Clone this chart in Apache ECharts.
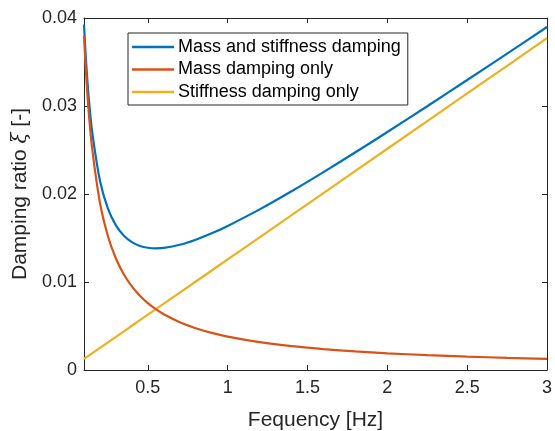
<!DOCTYPE html>
<html><head><meta charset="utf-8">
<script src="https://cdn.jsdelivr.net/npm/echarts@6/dist/echarts.min.js"></script>
<style>html,body{margin:0;padding:0;background:#fff}#c{width:555px;height:431px}</style>
</head><body><div id="c"></div>
<script>
const freq = [0.1,0.11,0.12,0.13,0.15,0.2,0.25,0.3,0.35,0.4,0.45,0.5,0.55,0.6,0.7,0.8,0.9,1.0,1.2,1.4,1.6,1.8,2.0,2.25,2.5,2.75,3.0];
const massStiff = [0.03926,0.03593,0.03318,0.03087,0.02722,0.02151,0.01834,0.01644,0.01526,0.01453,0.0141,0.01389,0.01382,0.01387,0.01423,0.01481,0.01553,0.01637,0.01825,0.02031,0.02249,0.02474,0.02704,0.02997,0.03295,0.03595,0.03898];
const massOnly = [0.0380,0.03455,0.03167,0.02923,0.02533,0.0190,0.0152,0.01267,0.01086,0.0095,0.00844,0.0076,0.00691,0.00633,0.00543,0.00475,0.00422,0.0038,0.00317,0.00271,0.00238,0.00211,0.0019,0.00169,0.00152,0.00138,0.00127];
const stiffOnly = [0.00126,0.00138,0.00151,0.00163,0.00189,0.00251,0.00314,0.00377,0.0044,0.00503,0.00566,0.00629,0.00691,0.00754,0.0088,0.01006,0.01131,0.01257,0.01508,0.0176,0.02011,0.02263,0.02514,0.02828,0.03143,0.03457,0.03771];
const seriesNames = ['Mass and stiffness damping','Mass damping only','Stiffness damping only'];
const xTicks = [0.5,1,1.5,2,2.5,3];
const yTicks = [0,0.01,0.02,0.03,0.04];
const colors = ['#0072BD','#D95319','#EDB120'];

const pairs = arr => freq.map((f,i)=>[f,arr[i]]);
const font = 'Liberation Sans, Arial, Helvetica, sans-serif';
const axisCol = '#262626';
const chart = echarts.init(document.getElementById('c'), null, {renderer:'canvas'});
const baseX = {type:'value', min:0.1, max:3,
  axisLine:{show:true, onZero:false, lineStyle:{color:axisCol, width:1}},
  axisTick:{show:true, inside:true, length:5, customValues:xTicks, lineStyle:{color:axisCol}},
  splitLine:{show:false}};
const baseY = {type:'value', min:0, max:0.04, interval:0.01,
  axisLine:{show:true, onZero:false, lineStyle:{color:axisCol, width:1}},
  axisTick:{show:true, inside:true, length:5, lineStyle:{color:axisCol}},
  splitLine:{show:false}};
chart.setOption({
  backgroundColor:'#fff',
  animation:false,
  color:colors,
  grid:{left:84, right:8, top:18, bottom:61, containLabel:false, outerBoundsMode:'none'},
  legend:{orient:'vertical', left:128, top:33, data:seriesNames,
    icon:'rect', itemWidth:42, itemHeight:2.5, itemGap:4.5,
    borderColor:axisCol, borderWidth:1, padding:[5,7,4,4], backgroundColor:'#fff',
    textStyle:{fontFamily:font, fontSize:18, lineHeight:18, color:'#000', padding:[0,0,0,-1]}},
  xAxis:[
    Object.assign({}, baseX, {position:'bottom',
      name:'Fequency [Hz]', nameLocation:'middle', nameGap:40,
      nameTextStyle:{fontFamily:font, fontSize:21, color:axisCol},
      axisLabel:{show:true, customValues:xTicks, margin:9, fontFamily:font, fontSize:18, color:axisCol,
        formatter: v => String(v)}}),
    Object.assign({}, baseX, {position:'top', axisLabel:{show:false}})
  ],
  yAxis:[
    Object.assign({}, baseY, {position:'left',
      name:'{n|Damping ratio }{g|ξ}{n| [-]}', nameLocation:'middle', nameGap:52,
      nameTextStyle:{rich:{n:{fontFamily:font, fontSize:21, color:axisCol},
        g:{fontFamily:'DejaVu Serif, serif', fontStyle:'italic', fontSize:20, color:axisCol}}},
      axisLabel:{show:true, margin:7, fontFamily:font, fontSize:18, color:axisCol,
        formatter: v => String(+v.toFixed(2))}}),
    Object.assign({}, baseY, {position:'right', axisLabel:{show:false}})
  ],
  series:[
    {name:seriesNames[0], type:'line', data:pairs(massStiff), smooth:0.3, showSymbol:false, symbol:'none', lineStyle:{width:2.2, color:colors[0]}, z:3},
    {name:seriesNames[1], type:'line', data:pairs(massOnly), smooth:0.3, showSymbol:false, symbol:'none', lineStyle:{width:2.2, color:colors[1]}, z:4},
    {name:seriesNames[2], type:'line', data:pairs(stiffOnly), smooth:false, showSymbol:false, symbol:'none', lineStyle:{width:2.2, color:colors[2]}, z:2}
  ]
});
</script></body></html>
